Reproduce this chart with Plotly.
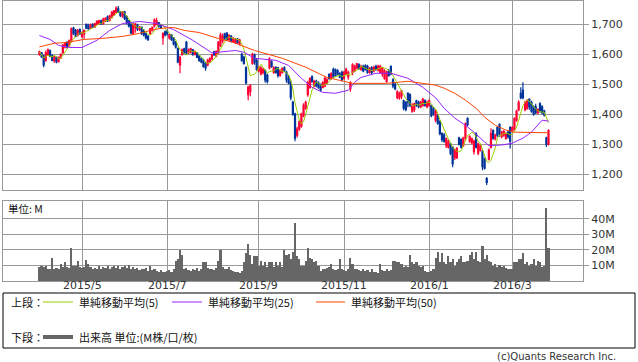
import plotly.graph_objects as go
import pandas as pd

# ---------------- data (trading-day index 1..240) ----------------
opens = [1600,1605,1595,1580,1600,1612,1595,1578,1590,1576,
         1588,1605,1625,1640,1630,1645,1688,1680,1665,1682,
         1660,1668,1700,1698,1688,1700,1692,1700,1703,1712,
         1703,1712,1725,1715,1725,1732,1740,1752,1742,1728,
         1742,1725,1712,1700,1670,1690,1698,1683,1690,1680,
         1670,1660,1670,1680,1695,1700,1705,1698,1655,1675,
         1678,1655,1665,1655,1640,1620,1565,1600,1618,1640,
         1605,1608,1615,1600,1605,1595,1585,1580,1570,1565,
         1575,1585,1608,1595,1605,1630,1645,1668,1670,1650,
         1660,1643,1640,1650,1636,1600,1590,1555,1465,1475,
         1570,1598,1580,1545,1535,1540,1545,1530,1555,1575,
         1540,1555,1555,1530,1540,1555,1540,1520,1505,1440,
         1400,1330,1350,1360,1395,1420,1465,1490,1525,1495,
         1510,1505,1500,1490,1495,1505,1532,1520,1550,1548,
         1545,1535,1540,1520,1535,1525,1485,1540,1545,1555,
         1565,1550,1560,1562,1560,1540,1555,1545,1560,1548,
         1540,1535,1520,1510,1545,1560,1515,1500,1455,1455,
         1460,1445,1440,1470,1465,1410,1415,1445,1440,1425,
         1430,1445,1425,1430,1430,1420,1380,1395,1375,1335,
         1330,1295,1290,1300,1290,1255,1255,1320,1315,1295,
         1320,1385,1310,1305,1275,1335,1270,1280,1275,1250,
         1185,1250,1290,1345,1318,1355,1365,1325,1330,1320,
         1340,1355,1345,1350,1380,1415,1470,1480,1415,1420,
         1450,1440,1425,1425,1405,1435,1425,1410,1320,1300]
highs = [1612,1608,1598,1613,1620,1616,1600,1595,1593,1593,
         1603,1635,1640,1645,1650,1690,1692,1685,1685,1687,
         1676,1683,1703,1702,1703,1704,1706,1714,1716,1716,
         1722,1724,1730,1732,1745,1748,1760,1762,1745,1745,
         1745,1730,1715,1705,1705,1705,1702,1695,1693,1684,
         1673,1665,1688,1693,1720,1722,1708,1702,1673,1680,
         1683,1670,1668,1658,1645,1623,1595,1620,1622,1645,
         1620,1622,1618,1613,1608,1597,1590,1585,1575,1585,
         1590,1602,1612,1613,1645,1672,1670,1672,1675,1668,
         1665,1658,1655,1655,1652,1605,1595,1560,1495,1500,
         1605,1603,1585,1560,1560,1555,1550,1535,1590,1580,
         1560,1560,1558,1550,1557,1560,1545,1530,1513,1445,
         1405,1358,1380,1405,1437,1445,1512,1523,1530,1515,
         1515,1510,1503,1510,1525,1520,1537,1540,1555,1553,
         1550,1540,1545,1545,1555,1545,1510,1570,1565,1572,
         1570,1565,1565,1567,1565,1558,1560,1562,1565,1565,
         1565,1558,1550,1545,1550,1563,1520,1505,1480,1475,
         1482,1448,1443,1473,1470,1437,1438,1448,1445,1445,
         1455,1450,1445,1450,1432,1425,1415,1400,1380,1340,
         1337,1322,1315,1305,1293,1285,1290,1325,1320,1325,
         1372,1390,1330,1322,1315,1340,1305,1300,1280,1255,
         1190,1285,1353,1350,1335,1360,1370,1345,1347,1340,
         1345,1360,1360,1390,1415,1447,1490,1507,1445,1450,
         1453,1445,1430,1435,1420,1440,1430,1415,1325,1350]
lows = [1595,1588,1557,1575,1596,1590,1577,1572,1570,1573,
        1585,1602,1620,1620,1625,1640,1665,1657,1660,1665,
        1655,1652,1685,1682,1685,1687,1688,1697,1700,1698,
        1700,1708,1708,1710,1720,1728,1737,1738,1725,1722,
        1715,1700,1690,1668,1665,1672,1678,1678,1665,1660,
        1650,1645,1665,1676,1690,1697,1690,1685,1632,1660,
        1663,1650,1645,1630,1620,1570,1537,1595,1600,1598,
        1600,1603,1595,1596,1587,1575,1570,1555,1545,1560,
        1572,1580,1595,1590,1600,1625,1637,1648,1645,1645,
        1640,1638,1635,1635,1630,1575,1565,1500,1447,1460,
        1565,1565,1545,1540,1530,1533,1505,1503,1550,1555,
        1535,1535,1522,1525,1535,1540,1505,1500,1447,1395,
        1310,1322,1345,1355,1390,1415,1458,1485,1505,1490,
        1490,1485,1475,1487,1490,1500,1515,1515,1520,1525,
        1530,1520,1510,1515,1530,1515,1475,1530,1540,1550,
        1548,1545,1540,1545,1535,1535,1530,1540,1545,1543,
        1535,1525,1515,1505,1525,1530,1487,1480,1450,1448,
        1450,1413,1410,1423,1423,1405,1407,1425,1420,1420,
        1425,1425,1420,1425,1390,1395,1373,1365,1330,1307,
        1305,1287,1285,1263,1223,1247,1250,1295,1285,1290,
        1313,1360,1305,1300,1265,1285,1263,1275,1213,1215,
        1163,1245,1285,1315,1312,1325,1325,1320,1325,1315,
        1318,1285,1340,1345,1375,1410,1450,1450,1410,1415,
        1415,1405,1395,1400,1400,1405,1400,1392,1290,1295]
closes = [1608,1592,1565,1605,1615,1593,1580,1592,1575,1590,
          1600,1630,1637,1625,1645,1685,1670,1660,1680,1670,
          1672,1680,1688,1685,1698,1690,1702,1710,1712,1702,
          1718,1720,1712,1728,1740,1745,1755,1742,1730,1742,
          1720,1705,1695,1672,1700,1700,1685,1692,1670,1665,
          1655,1650,1685,1690,1715,1712,1695,1688,1670,1665,
          1668,1665,1650,1635,1625,1575,1590,1615,1605,1605,
          1615,1618,1600,1610,1590,1580,1575,1560,1555,1580,
          1585,1598,1598,1610,1640,1665,1660,1655,1650,1662,
          1645,1653,1650,1640,1648,1580,1570,1505,1490,1495,
          1600,1575,1550,1555,1555,1550,1515,1510,1585,1560,
          1555,1540,1530,1545,1552,1545,1515,1505,1455,1400,
          1320,1350,1375,1400,1430,1440,1505,1520,1510,1510,
          1495,1490,1480,1505,1520,1515,1520,1535,1525,1530,
          1535,1525,1515,1540,1550,1540,1505,1565,1560,1568,
          1553,1560,1545,1550,1540,1553,1540,1557,1550,1560,
          1560,1555,1545,1540,1530,1535,1495,1485,1475,1470,
          1478,1420,1415,1440,1430,1430,1435,1430,1425,1440,
          1450,1430,1440,1445,1395,1400,1410,1370,1335,1315,
          1310,1318,1310,1270,1235,1280,1285,1300,1290,1320,
          1368,1365,1325,1318,1310,1290,1300,1295,1225,1220,
          1172,1280,1335,1320,1330,1330,1335,1340,1342,1335,
          1325,1310,1355,1385,1410,1440,1455,1455,1440,1445,
          1425,1410,1400,1405,1415,1410,1405,1398,1300,1345]
volumes = [9,9.5,9,10,7.5,8,15,8,8.5,7.5,
           10.7,9,12,9,8.6,21.5,9.7,10,13,9,
           8.6,9,13.3,10.7,9,8,8.5,7.8,9.5,8,
           9,8.5,9.7,8,9,10,8.5,9.5,8,9,
           10,8.5,10.5,8,9,7.5,8.5,7,8,7.5,
           8.5,6.5,9.5,7,8,6.5,6,7,6,5.5,
           6.5,7,6,7.5,13,14,20,17,8,8.6,
           7,6.5,8,7,8.5,6.5,7.5,12,12,8.5,
           7.5,8,7,8.6,13,20,9,8,7.5,9,
           7,6.5,5.5,6,5,6.5,12,18,24,17,
           11,16,16,10,13,9.5,12,9,12.5,12.5,
           9,12.5,10,12.5,9,20,17,17.5,14,19,
           37.6,16,14,9.7,10,13,21.5,15,14,12,
           13,10,6.5,8,7.5,8.5,9,11,7.5,7,
           8,14,8,7,6.5,7.5,15,10.7,7.5,8,
           7,6.5,7.5,6.5,7,6,7.5,6,5.5,5.4,
           10.7,7,6.5,7.5,6.5,7,13,13,12,12.5,
           11,9,10,9,17,12,11,12,10,9,
           9.5,6.5,5.5,6,6.5,8,15,19,12,18,
           12,11,16,12,14,10,12,14,16,12,
           12,13,17,19,14,19,13,12,22.6,14,
           17,13,12,10,11,9,10.5,9,10,8.6,
           8,7.5,8,12,12,14,14,18,11,12,
           10,11,14,10,13,12,9,10,47,21.5]
days = list(range(1, len(closes) + 1))

ma25_days = [1, 6, 10, 15, 21, 28, 34, 40, 48, 56, 64, 73, 82, 93, 97, 102, 112,
             118, 124, 129, 134, 140, 146, 149, 152, 159, 166, 174, 181, 187, 191,
             196, 201, 205, 210, 212, 218, 223, 228, 232, 237, 240]
ma25_vals = [1663, 1650, 1630, 1623, 1623, 1647, 1680, 1703, 1710, 1703, 1683, 1647,
             1605, 1613, 1607, 1587, 1580, 1563, 1520, 1490, 1473, 1470, 1480, 1507,
             1523, 1537, 1537, 1520, 1490, 1455, 1420, 1387, 1363, 1340, 1307, 1295,
             1297, 1303, 1320, 1340, 1380, 1377]
ma50_days = [1, 8, 14, 22, 30, 40, 48, 53, 58, 64, 69, 76, 85, 92, 102, 115, 126,
             136, 142, 148, 164, 174, 184, 187, 191, 196, 201, 206, 210, 215, 220,
             224, 240]
ma50_vals = [1625, 1637, 1640, 1650, 1653, 1660, 1670, 1680, 1687, 1690, 1680, 1673,
             1653, 1640, 1613, 1587, 1557, 1523, 1513, 1503, 1503, 1510, 1500, 1497,
             1487, 1470, 1447, 1420, 1390, 1363, 1347, 1340, 1338]

month_ticks = [21, 61, 104, 144, 184, 223]
month_labels = ["2015/5", "2015/7", "2015/9", "2015/11", "2016/1", "2016/3"]
price_ticks = [1200, 1300, 1400, 1500, 1600, 1700]
vol_ticks = [10, 20, 30, 40]

ma5 = pd.Series(closes).rolling(5, min_periods=1).mean().tolist()

# ---------------- styling ----------------
W, H = 638, 362
UP, DOWN = "#ff0033", "#003399"
C5, C25, C50 = "#99cc00", "#9922ff", "#ff4400"
GRID = "#999999"
FONT = "DejaVu Sans, Noto Sans CJK JP, sans-serif"
LFONT = "Noto Sans CJK JP, sans-serif"

def px_x(v):
    return v / W

def px_y(v):
    return 1 - v / H

fig = go.Figure()
fig.add_trace(go.Candlestick(
    x=days, open=opens, high=highs, low=lows, close=closes,
    increasing=dict(line=dict(color=UP, width=1.2), fillcolor=UP),
    decreasing=dict(line=dict(color=DOWN, width=1.2), fillcolor=DOWN),
    whiskerwidth=0, xaxis="x", yaxis="y", showlegend=False, hoverinfo="skip"))
fig.add_trace(go.Scatter(x=days, y=ma5, mode="lines", line=dict(color=C5, width=1),
                         xaxis="x", yaxis="y", showlegend=False, hoverinfo="skip"))
fig.add_trace(go.Scatter(x=ma25_days, y=ma25_vals, mode="lines", line=dict(color=C25, width=1),
                         xaxis="x", yaxis="y", showlegend=False, hoverinfo="skip"))
fig.add_trace(go.Scatter(x=ma50_days, y=ma50_vals, mode="lines", line=dict(color=C50, width=1),
                         xaxis="x", yaxis="y", showlegend=False, hoverinfo="skip"))
fig.add_trace(go.Bar(x=days, y=volumes, width=1.0, marker=dict(color="#666666", line=dict(width=0)),
                     xaxis="x2", yaxis="y2", showlegend=False, hoverinfo="skip"))

xr = [-16.1, 256.2]
xdom = [px_x(3), px_x(583)]
common_x = dict(range=xr, domain=xdom, tickvals=month_ticks, showgrid=True, gridcolor=GRID,
                gridwidth=1, showline=True, mirror=True, linecolor=GRID, linewidth=1,
                zeroline=False, fixedrange=True, showticklabels=False, ticks="")

fig.update_layout(
    width=W, height=H, margin=dict(l=0, r=0, t=0, b=0),
    paper_bgcolor="white", plot_bgcolor="white", bargap=0,
    font=dict(family=FONT, size=11, color="#333333"),
    xaxis=dict(**common_x, anchor="y", rangeslider=dict(visible=False)),
    yaxis=dict(range=[1146.7, 1780], domain=[px_y(190), px_y(0.5)], side="right",
               tickvals=price_ticks, tickformat=",d", ticks="outside", ticklen=5,
               tickcolor=GRID, showgrid=True, gridcolor=GRID, showline=True, mirror=True,
               linecolor=GRID, zeroline=False, anchor="x", fixedrange=True,
               tickfont=dict(size=11, color="#333333")),
    xaxis2=dict(**common_x, anchor="y2"),
    yaxis2=dict(range=[0, 51.6], domain=[px_y(281), px_y(201)], side="right",
                tickvals=vol_ticks, ticktext=[f"{v}M" for v in vol_ticks], ticks="outside",
                ticklen=5, tickcolor=GRID, showgrid=True, gridcolor=GRID, showline=True,
                mirror=True, linecolor=GRID, zeroline=False, anchor="x2", fixedrange=True,
                tickfont=dict(size=11, color="#333333")),
)

# month labels under the volume panel, positioned on the x2 axis
for t, lab in zip(month_ticks, month_labels):
    fig.add_annotation(text=lab, xref="x2", yref="paper", x=t, y=px_y(285.5),
                       xanchor="center", yanchor="middle", showarrow=False,
                       font=dict(family=FONT, size=11, color="#333333"))

shapes = [
    dict(type="rect", xref="paper", yref="paper", x0=px_x(3), x1=px_x(635),
         y0=px_y(348), y1=px_y(293), line=dict(color="black", width=1), fillcolor="rgba(0,0,0,0)"),
    dict(type="line", xref="paper", yref="paper", x0=px_x(43), x1=px_x(73),
         y0=px_y(302), y1=px_y(302), line=dict(color=C5, width=1)),
    dict(type="line", xref="paper", yref="paper", x0=px_x(172), x1=px_x(202),
         y0=px_y(302), y1=px_y(302), line=dict(color=C25, width=1)),
    dict(type="line", xref="paper", yref="paper", x0=px_x(316), x1=px_x(345),
         y0=px_y(302), y1=px_y(302), line=dict(color=C50, width=1)),
    dict(type="line", xref="paper", yref="paper", x0=px_x(43), x1=px_x(73),
         y0=px_y(337), y1=px_y(337), line=dict(color="#666666", width=4)),
]
fig.update_layout(shapes=shapes)

def note(text, x, y, anchor="left", size=11, color="#111111", family=LFONT):
    fig.add_annotation(text=text, xref="paper", yref="paper", x=px_x(x), y=px_y(y),
                       xanchor=anchor, yanchor="middle", showarrow=False,
                       font=dict(family=family, size=size, color=color))

note("上段：", 9, 302)
note("単純移動平均(5)", 77, 302)
note("単純移動平均(25)", 206, 302)
note("単純移動平均(50)", 349, 302)
note("下段：", 9, 337)
note("出来高 単位:(M株/口/枚)", 77, 337)
note("単位: M", 6, 208, size=10.5)
note("(c)Quants Research Inc.", 618, 356, anchor="right", size=10, color="#333333", family=FONT)

fig.write_html("out.html", config={"displayModeBar": False, "staticPlot": True},
               post_script="document.body.style.margin='0';document.body.style.padding='0';"
                           "document.documentElement.style.overflow='hidden';")
